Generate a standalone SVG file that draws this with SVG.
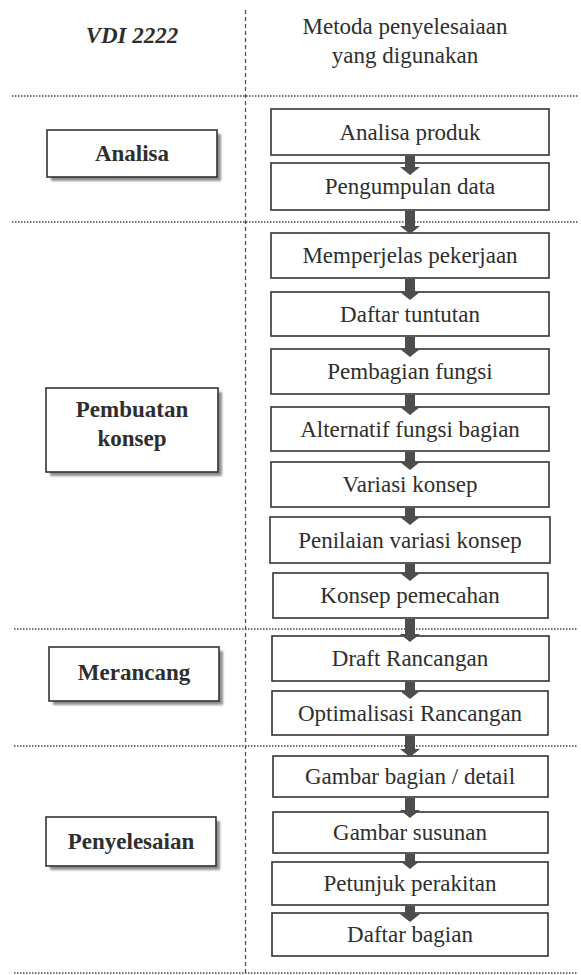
<svg xmlns="http://www.w3.org/2000/svg" width="581" height="975" viewBox="0 0 581 975">
<defs>
<style>
.bg{fill:#ffffff}
.step rect{fill:#ffffff;stroke:#333333;stroke-width:1.6}
.step text{font-family:'Liberation Serif','Times New Roman','DejaVu Serif',serif;font-size:23px;fill:#2e2e2e;text-anchor:middle}
.phase .frame{fill:#ffffff;stroke:#333333;stroke-width:1.6}
.phase .shadow{fill:#8f8f8f;filter:url(#blur)}
.phase text{font-family:'Liberation Serif','Times New Roman','DejaVu Serif',serif;font-size:23px;font-weight:bold;fill:#2e2e2e;text-anchor:middle}
.head{font-family:'Liberation Serif','Times New Roman','DejaVu Serif',serif;font-size:23px;fill:#2e2e2e;text-anchor:middle}
.sep{stroke:#444444;stroke-width:1.5;stroke-dasharray:1.5 1.5;fill:none}
.vsep{stroke:#555555;stroke-width:1.3;stroke-dasharray:4 3;fill:none}
.arr{fill:#4d4d4d}
</style>
<filter id="blur" x="-10%" y="-10%" width="120%" height="130%"><feGaussianBlur stdDeviation="1.2"/></filter>
</defs>
<rect class="bg" x="0" y="0" width="581" height="975"/>

<g id="header">
<text class="head" x="132" y="43" font-size="22" font-weight="bold" font-style="italic">VDI 2222</text>
<text class="head" x="405" y="34">Metoda penyelesaiaan</text>
<text class="head" x="405" y="63">yang digunakan</text>
</g>

<g id="separators">
<line class="vsep" x1="245.5" y1="10" x2="245.5" y2="975"/>
<line class="sep" x1="12" y1="96" x2="578" y2="96"/>
<line class="sep" x1="12" y1="222" x2="578" y2="222"/>
<line class="sep" x1="14" y1="629" x2="578" y2="629"/>
<line class="sep" x1="14" y1="746" x2="578" y2="746"/>
<line class="sep" x1="14" y1="973" x2="578" y2="973" stroke="#777777"/>
</g>

<g id="phase-analisa" class="phase">
<rect class="shadow" x="51" y="134" width="170" height="47"/>
<rect class="frame" x="47" y="130" width="170" height="47"/>
<text x="132" y="161">Analisa</text>
</g>
<g id="phase-konsep" class="phase">
<rect class="shadow" x="50" y="392" width="172" height="84"/>
<rect class="frame" x="46" y="388" width="172" height="84"/>
<text x="132" y="417">Pembuatan</text>
<text x="132" y="446">konsep</text>
</g>
<g id="phase-merancang" class="phase">
<rect class="shadow" x="53" y="651" width="170" height="54"/>
<rect class="frame" x="49" y="647" width="170" height="54"/>
<text x="134" y="680">Merancang</text>
</g>
<g id="phase-penyelesaian" class="phase">
<rect class="shadow" x="50" y="821" width="170" height="49"/>
<rect class="frame" x="46" y="817" width="170" height="49"/>
<text x="131" y="849">Penyelesaian</text>
</g>

<g id="s1" class="step"><rect x="271" y="109" width="278" height="46"/><text x="410" y="140">Analisa produk</text></g>
<g id="s2" class="step"><rect x="271" y="163" width="278" height="47"/><text x="410" y="194">Pengumpulan data</text></g>
<g id="s3" class="step"><rect x="271" y="233" width="278" height="45"/><text x="410" y="263">Memperjelas  pekerjaan</text></g>
<g id="s4" class="step"><rect x="271" y="292" width="278" height="44"/><text x="410" y="322">Daftar tuntutan</text></g>
<g id="s5" class="step"><rect x="271" y="349" width="278" height="45"/><text x="410" y="379">Pembagian fungsi</text></g>
<g id="s6" class="step"><rect x="271" y="407" width="278" height="44"/><text x="410" y="437">Alternatif fungsi bagian</text></g>
<g id="s7" class="step"><rect x="271" y="462" width="278" height="45"/><text x="410" y="492">Variasi konsep</text></g>
<g id="s8" class="step"><rect x="270" y="517" width="280" height="46"/><text x="410" y="548">Penilaian variasi  konsep</text></g>
<g id="s9" class="step"><rect x="273" y="573" width="275" height="45"/><text x="410" y="603">Konsep pemecahan</text></g>
<g id="s10" class="step"><rect x="272" y="636" width="277" height="45"/><text x="410" y="666">Draft Rancangan</text></g>
<g id="s11" class="step"><rect x="272" y="691" width="276" height="44"/><text x="410" y="721">Optimalisasi  Rancangan</text></g>
<g id="s12" class="step"><rect x="273" y="756" width="275" height="41"/><text x="410" y="784">Gambar bagian / detail</text></g>
<g id="s13" class="step"><rect x="273" y="812" width="275" height="41"/><text x="410" y="840">Gambar susunan</text></g>
<g id="s14" class="step"><rect x="272" y="862" width="276" height="43"/><text x="410" y="891">Petunjuk perakitan</text></g>
<g id="s15" class="step"><rect x="272" y="913" width="276" height="43"/><text x="410" y="942">Daftar bagian</text></g>

<g id="connectors">
<path class="arr" d="M405 156 H415 V167 H420 L410 175 L400 167 H405 Z"/>
<path class="arr" d="M405 211 H415 V226 H420 L410 234 L400 226 H405 Z"/>
<path class="arr" d="M405 279 H415 V292 H420 L410 300 L400 292 H405 Z"/>
<path class="arr" d="M405 337 H415 V349 H420 L410 357 L400 349 H405 Z"/>
<path class="arr" d="M405 395 H415 V407 H420 L410 415 L400 407 H405 Z"/>
<path class="arr" d="M405 452 H415 V462 H420 L410 470 L400 462 H405 Z"/>
<path class="arr" d="M405 508 H415 V517 H420 L410 525 L400 517 H405 Z"/>
<path class="arr" d="M405 564 H415 V573 H420 L410 581 L400 573 H405 Z"/>
<path class="arr" d="M405 619 H415 V634 H420 L410 642 L400 634 H405 Z"/>
<path class="arr" d="M405 682 H415 V691 H420 L410 699 L400 691 H405 Z"/>
<path class="arr" d="M405 736 H415 V749 H420 L410 757 L400 749 H405 Z"/>
<path class="arr" d="M405 798 H415 V810 H420 L410 818 L400 810 H405 Z"/>
<path class="arr" d="M405 854 H415 V861 H420 L410 869 L400 861 H405 Z"/>
<path class="arr" d="M405 906 H415 V914 H420 L410 922 L400 914 H405 Z"/>
</g>
</svg>
